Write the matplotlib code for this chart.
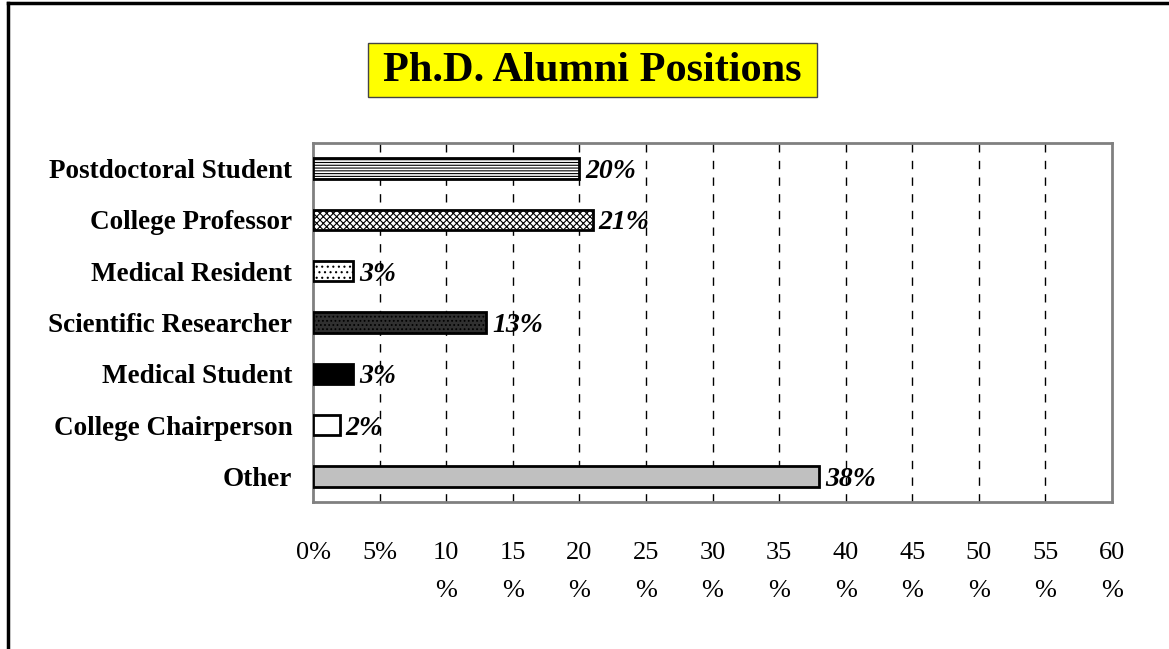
import matplotlib
matplotlib.use('Agg')
import matplotlib.pyplot as plt
from matplotlib.lines import Line2D
from matplotlib.patches import Rectangle

# data
positions = ['Postdoctoral Student', 'College Professor', 'Medical Resident',
             'Scientific Researcher', 'Medical Student', 'College Chairperson', 'Other']
percents = [20, 21, 3, 13, 3, 2, 38]
tick_values = [0, 5, 10, 15, 20, 25, 30, 35, 40, 45, 50, 55, 60]
tick_labels = ['0%', '5%', '10\n%', '15\n%', '20\n%', '25\n%', '30\n%', '35\n%',
               '40\n%', '45\n%', '50\n%', '55\n%', '60\n%']

face_colors = ['white', 'white', 'white', '#303030', 'black', 'white', '#c0c0c0']
hatches = ['------', 'xxxxx', '...', '....', None, None, None]

plt.rcParams['font.family'] = ['Liberation Serif', 'DejaVu Serif']
plt.rcParams['hatch.linewidth'] = 0.8

fig = plt.figure(figsize=(11.69, 6.49), dpi=100)
ax = fig.add_axes([0.2678, 0.2265, 0.6834, 0.5532])

ypos = list(range(len(positions)))
for y, v, fc, h in zip(ypos, percents, face_colors, hatches):
    ax.barh(y, v, height=0.4, color=fc, edgecolor='black', linewidth=2,
            hatch=h, zorder=3)
    ax.text(v + 0.45, y + 0.06, f'{v}%', va='center', ha='left', fontsize=20,
            fontweight='bold', fontstyle='italic', zorder=4)

ax.set_xlim(0, 60)
ax.set_ylim(len(positions) - 0.5, -0.5)
ax.set_xticks(tick_values)
ax.set_xticklabels(tick_labels, fontsize=19, linespacing=1.95, va='top')
ax.set_yticks(ypos)
ax.set_yticklabels(positions, fontsize=19.5, fontweight='bold')
ax.tick_params(axis='x', length=0, pad=29)
ax.tick_params(axis='y', length=0, pad=15)

for x in tick_values[1:-1]:
    ax.axvline(x, color='black', linewidth=1, linestyle=(0, (6, 6)), zorder=1)

for s in ax.spines.values():
    s.set_color('#808080')
    s.set_linewidth(2)

# yellow title box
fig.add_artist(Rectangle((368 / 1169, 1 - 97 / 649), 449 / 1169, 54 / 649,
                         facecolor='yellow', edgecolor='#444444', linewidth=1,
                         transform=fig.transFigure))
fig.text(592.5 / 1169, 1 - 71 / 649, 'Ph.D. Alumni Positions', ha='center', va='center',
         fontsize=30.5, fontweight='bold')

# frame lines on the left and top of the picture
fig.add_artist(Line2D([0.0065, 0.0065], [0, 0.9955], color='black', linewidth=2.5,
                      transform=fig.transFigure))
fig.add_artist(Line2D([0.0065, 1.0], [0.9955, 0.9955], color='black', linewidth=2.5,
                      transform=fig.transFigure))

fig.savefig('out.png', dpi=100)
